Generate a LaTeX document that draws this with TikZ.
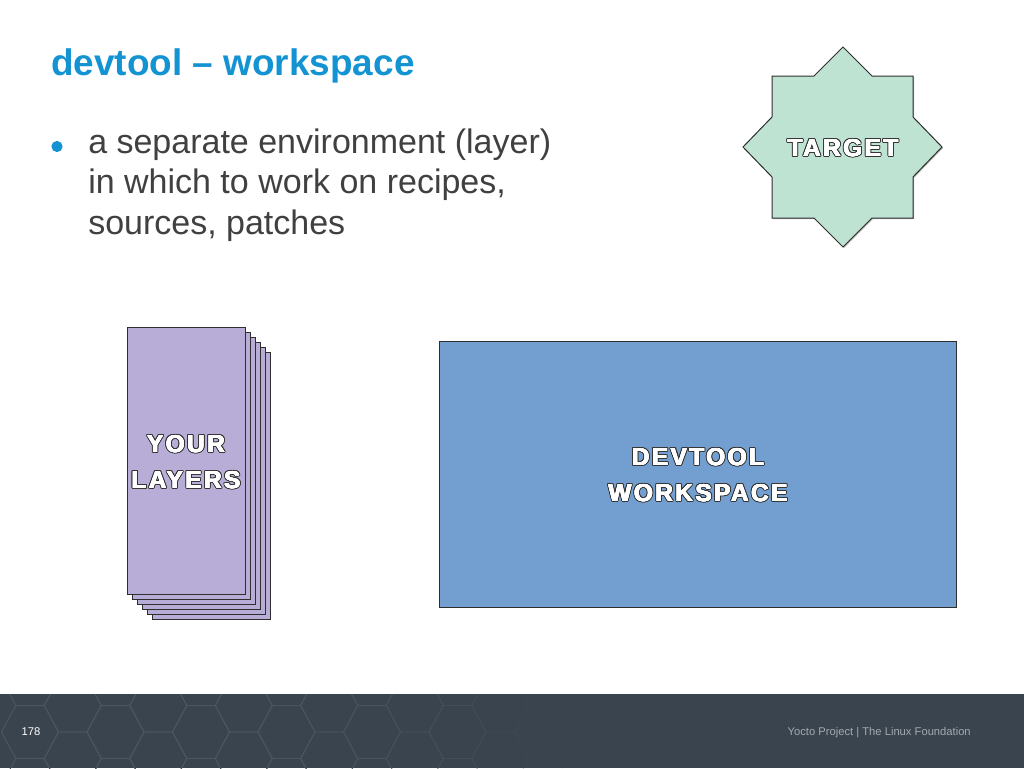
\documentclass[tikz,border=0pt]{standalone}
\usepackage{fontspec}
\setmainfont{Liberation Sans}
\newfontfamily\lblfont[LetterSpace=10]{Liberation Sans}
\definecolor{titleblue}{HTML}{1493D3}
\definecolor{bodygray}{HTML}{404040}
\definecolor{mint}{HTML}{BFE3D3}
\definecolor{lavender}{HTML}{B8ADD6}
\definecolor{wsblue}{HTML}{729FCF}
\definecolor{footbg}{HTML}{3A444E}
\definecolor{hexcol}{HTML}{4B5661}
\definecolor{foottext}{HTML}{A3A9B0}
\definecolor{outl}{HTML}{363636}
\definecolor{edge}{HTML}{2E2E2E}
\newcommand\olt[1]{\leavevmode\hbox{%
  \foreach \ang in {0,22.5,...,337.5}{\rlap{\kern\fpeval{1.05*cosd(\ang)}pt\raisebox{\fpeval{1.05*sind(\ang)}pt}{\textcolor{outl}{#1}}}}%
  \foreach \ang in {0,45,...,315}{\rlap{\kern\fpeval{0.3*cosd(\ang)}pt\raisebox{\fpeval{0.3*sind(\ang)}pt}{\textcolor{white}{#1}}}}%
  \textcolor{white}{#1}}}
\begin{document}
\begin{tikzpicture}[x=0.75pt,y=-0.75pt,
  shapeedge/.style={draw=edge,line width=0.75pt},
  lbl/.style={font={\lblfont\bfseries\fontsize{18.3}{27}\selectfont},align=center,inner sep=0pt},
  bodytext/.style={anchor=base west,inner sep=0pt,text=bodygray,font={\fontsize{25.5}{30}\selectfont}},
  hexline/.style={draw=hexcol,line width=0.7pt},
  foot/.style={inner sep=0pt,anchor=base,font={\fontsize{8.4}{10}\selectfont}}]
\useasboundingbox (0,0) rectangle (1024,768);
\fill[white] (0,0) rectangle (1024,768);

% title and bullet
\node[anchor=base west,inner sep=0pt,text=titleblue,font={\bfseries\fontsize{27.7}{34}\selectfont}] (title) at (51,75) {devtool – workspace};
\fill[titleblue] (57,146.5) circle[radius=4.2pt];
\node[bodytext] (l1) at (88,153) {a separate environment (layer)};
\node[bodytext] (l2) at (88,193.5) {in which to work on recipes,};
\node[bodytext] (l3) at (88,234) {sources, patches};

% target star
\path[fill=gray!55,shift={(1,1)}] (843,47) -- (872,76) -- (913,76) -- (913,117) -- (942,147) -- (913,177) -- (913,218) -- (872,218) -- (843,247) -- (814,218) -- (772,218) -- (772,177) -- (743,147) -- (772,117) -- (772,76) -- (814,76) -- cycle;
\path[shapeedge,fill=mint] (843,47) -- (872,76) -- (913,76) -- (913,117) -- (942,147) -- (913,177) -- (913,218) -- (872,218) -- (843,247) -- (814,218) -- (772,218) -- (772,177) -- (743,147) -- (772,117) -- (772,76) -- (814,76) -- cycle;
\node[lbl] (target) at (843,148) {\olt{TARGET}};

% your layers stack
\foreach \d in {25,20,15,10,5}{
  \path[shapeedge,fill=lavender] (127+\d,327+\d) rectangle (245+\d,594+\d);
}
\path[shapeedge,fill=lavender] (127,327) rectangle (245,594);
\node[lbl] (layers) at (186,462) {\olt{YOUR}\\\olt{LAYERS}};

% devtool workspace
\path[shapeedge,fill=wsblue] (439,341) rectangle (956,607);
\node[lbl] (ws) at (698,475) {\olt{DEVTOOL}\\\olt{WORKSPACE}};

% footer
\fill[footbg] (0,694) rectangle (1024,768);
\begin{scope}
\clip (0,694) rectangle (1024,768);
\foreach \j in {0,...,13}{
  \pgfmathsetmacro\cx{30+42.75*\j}
  \pgfmathsetmacro\op{max(0,min(1,(560-\cx)/300))}
  \pgfmathsetmacro\cy{mod(\j,2)==0 ? 732 : 705.5}
  \foreach \k in {-1,0,1}{
    \draw[hexline,opacity=\op,shift={(\cx,{\cy+53*\k})}] (-28.5,0) -- (-14.25,-26.5) -- (14.25,-26.5) -- (28.5,0) -- (14.25,26.5) -- (-14.25,26.5) -- cycle;
  }
}
\end{scope}
\node[foot,text=white] (page) at (31,735) {178};
\node[foot,text=foottext,anchor=base east] (org) at (971,735) {Yocto Project | The Linux Foundation};
\end{tikzpicture}
\end{document}
